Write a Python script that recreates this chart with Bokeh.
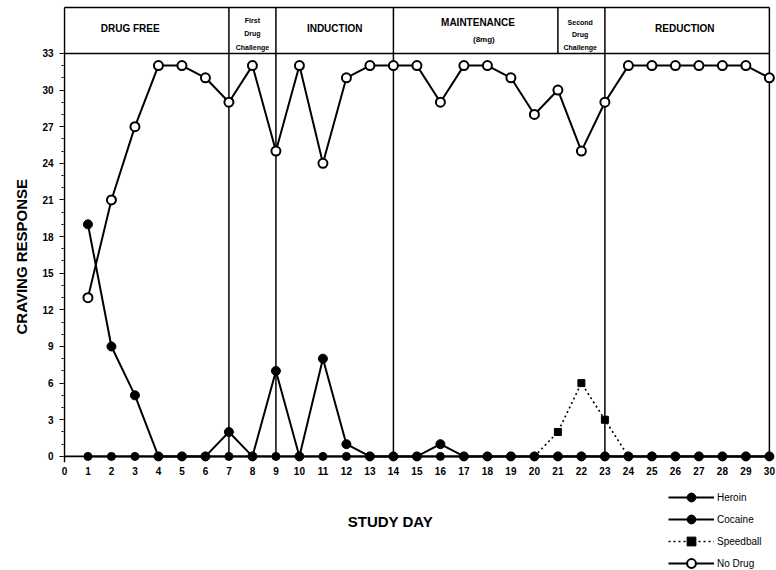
from bokeh.plotting import figure
from bokeh.layouts import column
from bokeh.models import (Range1d, FixedTicker, Label, Legend, LegendItem,
                          ColumnDataSource, Title)
from bokeh.core.properties import value
from bokeh.embed import file_html
from bokeh.resources import INLINE

# ---------------- data ----------------
days = list(range(1, 31))
heroin = [19, 9, 5, 0, 0, 0, 2, 0, 7, 0, 8, 1, 0, 0, 0,
          1, 0, 0, 0, 0, 0, 0, 0, 0, 0, 0, 0, 0, 0, 0]
cocaine = [0, 0, 0, 0, 0, 0, 0, 0, 0, 0, 0, 0, 0, 0, 0,
           0, 0, 0, 0, 0, 0, 0, 0, 0, 0, 0, 0, 0, 0, 0]
speedball_days = [20, 21, 22, 23, 24]
speedball = [0, 2, 6, 3, 0]
no_drug = [13, 21, 27, 32, 32, 31, 29, 32, 25, 32, 24, 31, 32, 32, 32,
           29, 32, 32, 31, 28, 30, 25, 29, 32, 32, 32, 32, 32, 32, 31]

y_ticks = [0, 3, 6, 9, 12, 15, 18, 21, 24, 27, 30, 33]
y_minor = list(range(0, 34))
x_ticks = list(range(0, 31))

series_names = ["Heroin", "Cocaine", "Speedball", "No Drug"]

# study phases
full_dividers = [7, 9, 14, 23, 30]
header_dividers = [21]
header_top = 36.75
header_bottom = 33

big_labels = ["DRUG FREE", "INDUCTION", "MAINTENANCE", "REDUCTION"]
big_x = [2.8, 11.5, 17.6, 26.4]
big_y = [35.05, 35.05, 35.55, 35.05]

small_labels = ["First", "Drug", "Challenge", "(8mg)", "Second", "Drug", "Challenge"]
small_x = [8.0, 8.0, 8.0, 17.85, 21.95, 21.95, 21.95]
small_y = [35.7, 34.65, 33.5, 34.1, 35.55, 34.55, 33.5]
small_size = ["7px", "7px", "7px", "8px", "7px", "7px", "7px"]

FONT = "Liberation Sans"
INK = "black"
X0, X1 = -0.04, 30.26

# series styles: (x, y, dash, line width, marker, size, fill, marker line width)
series = [
    (days, heroin, "solid", 2, "circle", 9, INK, 1),
    (days, cocaine, "solid", 2, "circle", 8, INK, 1),
    (speedball_days, speedball, "2 3", 1.6, "square", 7, INK, 1),
    (days, no_drug, "solid", 2, "circle", 9, "white", 2),
]

# ---------------- main chart ----------------
p = figure(width=776, height=479,
           x_range=Range1d(X0, X1), y_range=Range1d(-0.5, 37.33),
           output_backend="svg", toolbar_location=None,
           min_border_left=63, min_border_right=1,
           min_border_top=0, min_border_bottom=17)
p.outline_line_color = None
p.grid.visible = False
p.background_fill_color = "white"
p.border_fill_color = "white"

p.xaxis.ticker = FixedTicker(ticks=x_ticks, minor_ticks=[])
p.yaxis.ticker = FixedTicker(ticks=y_ticks, minor_ticks=y_minor)
for ax in (p.xaxis[0], p.yaxis[0]):
    ax.axis_line_color = None
    ax.major_tick_line_color = INK
    ax.major_tick_line_width = 1
    ax.major_label_text_font = FONT
    ax.major_label_text_font_style = "bold"
    ax.major_label_text_font_size = "10px"
    ax.major_label_text_color = INK
p.xaxis.major_tick_in = 0
p.xaxis.major_tick_out = 0
p.xaxis.major_label_standoff = 4
p.yaxis.major_tick_in = 0
p.yaxis.major_tick_out = 4
p.yaxis.minor_tick_in = 0
p.yaxis.minor_tick_out = 2
p.yaxis.minor_tick_line_color = INK
p.yaxis.major_label_standoff = 6

# axis lines (the value axis stops just below the baseline, as in the original)
p.segment(x0=[0, 0], x1=[0, 30], y0=[-0.5, 0], y1=[header_top, 0],
          line_color=INK, line_width=1.6)

# header box and phase dividers
p.segment(x0=[0, 0], x1=[30, 30], y0=[header_top, header_bottom],
          y1=[header_top, header_bottom], line_color=INK, line_width=1.5)
p.segment(x0=full_dividers, x1=full_dividers, y0=[0] * len(full_dividers),
          y1=[header_top] * len(full_dividers), line_color=INK, line_width=1.5)
p.segment(x0=header_dividers, x1=header_dividers, y0=[header_bottom] * len(header_dividers),
          y1=[header_top] * len(header_dividers), line_color=INK, line_width=1.5)

p.text(x=big_x, y=big_y, text=big_labels, text_font=value(FONT),
       text_font_style="bold", text_font_size="10px", text_align="center",
       text_baseline="middle", text_color=INK)
src_small = ColumnDataSource(dict(x=small_x, y=small_y, t=small_labels, s=small_size))
p.text(x="x", y="y", text="t", source=src_small, text_font=value(FONT),
       text_font_style="bold", text_font_size="s", text_align="center",
       text_baseline="middle", text_color=INK)

# series lines first, then markers on top
order = [1, 0, 2, 3]
for i in order:
    xs, ys, dash, lw, mk, sz, fill, mlw = series[i]
    p.line(xs, ys, line_color=INK, line_width=lw, line_dash=dash)
for i in order:
    xs, ys, dash, lw, mk, sz, fill, mlw = series[i]
    if i == 2:   # speedball markers only where it departs from the baseline
        xs, ys = xs[1:4], ys[1:4]
    p.scatter(xs, ys, marker=mk, size=sz, fill_color=fill, line_color=INK, line_width=mlw)

p.add_layout(Title(text="CRAVING RESPONSE", align="left", offset=128, standoff=20,
                   text_font=FONT, text_font_style="bold", text_font_size="15px",
                   text_color=INK), "left")

# ---------------- strip below: axis title and key ----------------
q = figure(width=776, height=91, x_range=Range1d(X0, X1), y_range=Range1d(0, 91),
           x_axis_type=None, y_axis_type=None, output_backend="svg",
           toolbar_location=None, min_border=0)
q.outline_line_color = None
q.grid.visible = False
q.background_fill_color = "white"
q.border_fill_color = "white"

items = []
for name, (xs, ys, dash, lw, mk, sz, fill, mlw) in zip(series_names, series):
    ln = q.line(xs, ys, line_color=INK, line_width=lw, line_dash=dash, visible=False)
    pt = q.scatter(xs, ys, marker=mk, size=sz, fill_color=fill, line_color=INK,
                   line_width=mlw, visible=False)
    items.append(LegendItem(label=name, renderers=[ln, pt]))

legend = Legend(items=items, location=(605, -4), glyph_width=46, glyph_height=22,
                label_height=22, spacing=0, padding=0, margin=0,
                border_line_color=None, background_fill_alpha=0,
                inactive_fill_alpha=0,
                label_text_font=FONT, label_text_font_size="10px",
                label_standoff=3, label_text_color=INK)
q.add_layout(legend)

q.add_layout(Label(x=13.87, y=49, text="STUDY DAY",
                   text_font=FONT, text_font_style="bold", text_font_size="15px",
                   text_align="center", text_baseline="middle", text_color=INK))

layout = column(p, q, spacing=0)
open("out.html", "w").write(file_html(layout, INLINE))
